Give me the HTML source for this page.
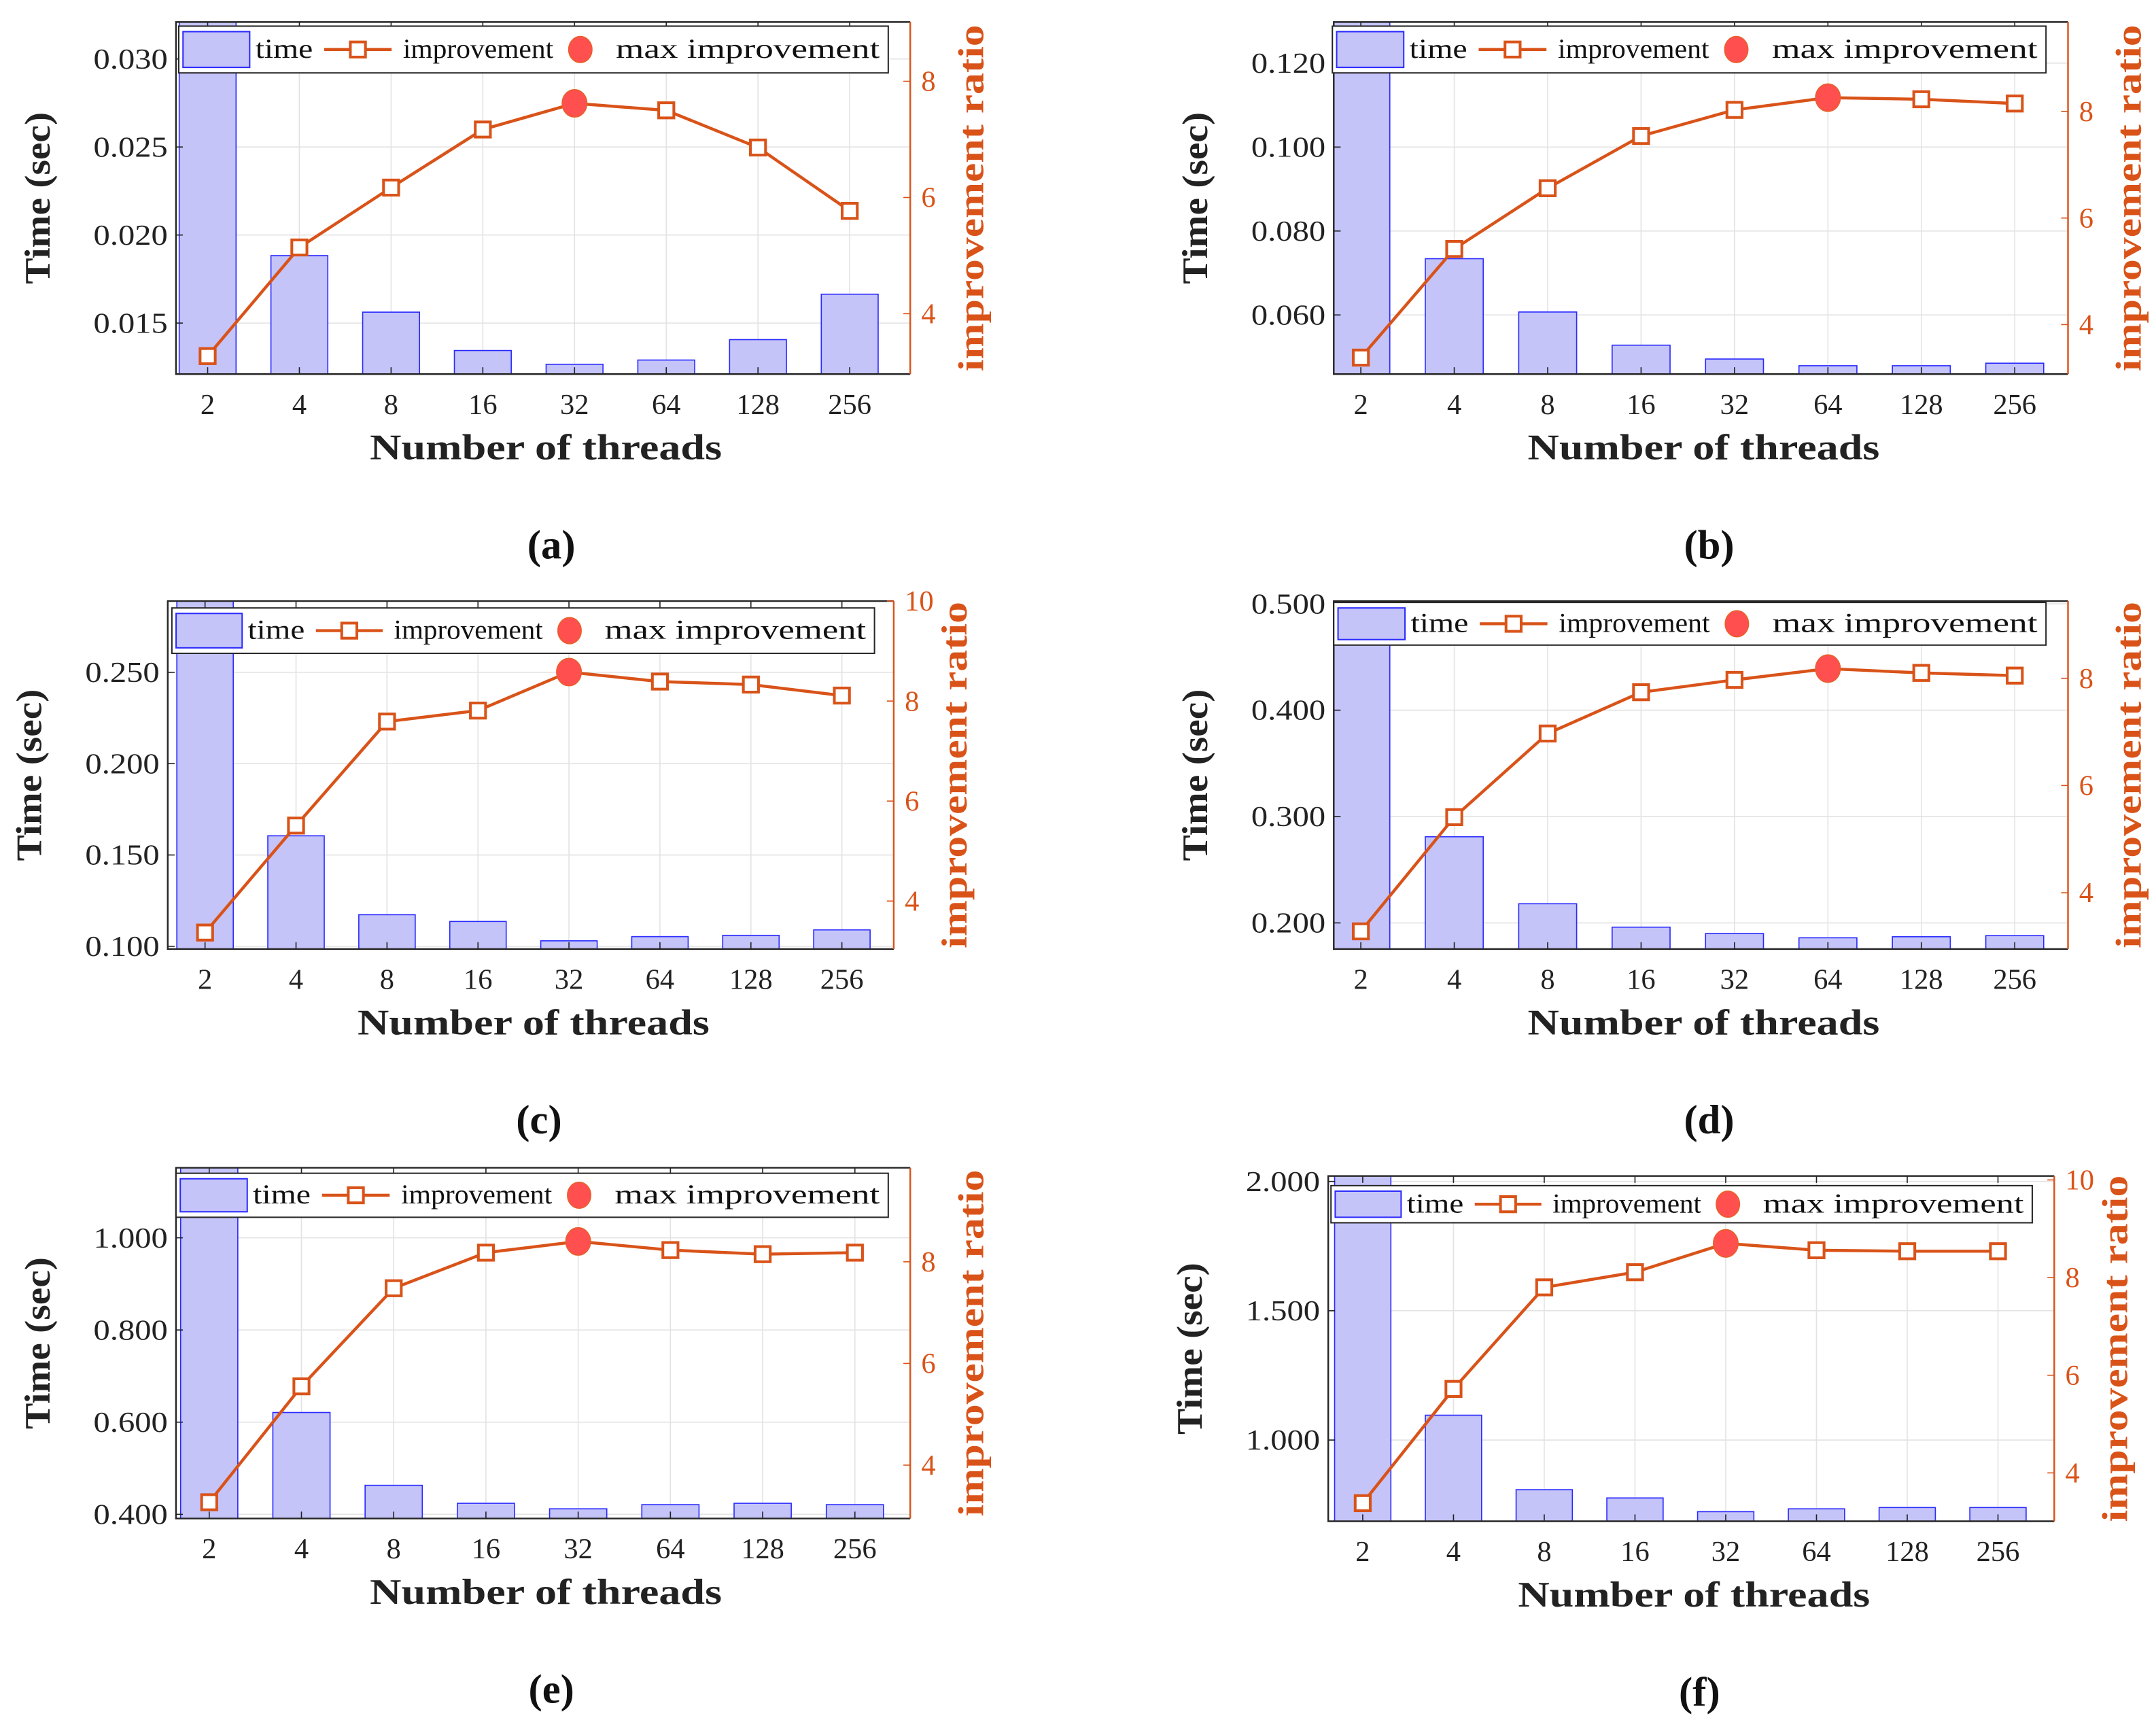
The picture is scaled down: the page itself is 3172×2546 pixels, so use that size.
<!DOCTYPE html>
<html><head><meta charset="utf-8"><style>
html,body{margin:0;padding:0;background:#fff;}
svg{display:block;}
text{font-family:"Liberation Serif",serif;}
</style></head><body>
<svg id="fig" width="3172" height="2546" viewBox="0 0 1568 1258.5" preserveAspectRatio="none" xmlns="http://www.w3.org/2000/svg"></svg>
<script>
const categories = ["2","4","8","16","32","64","128","256"];
// time (sec) values per panel
const timeA = [0.0330,0.01883,0.01562,0.01344,0.01266,0.0129,0.01406,0.01664];
const timeB = [0.135,0.0734,0.0607,0.0528,0.0495,0.0479,0.0479,0.0485];
const timeC = [0.300,0.1605,0.1173,0.1136,0.1030,0.1053,0.1060,0.1090];
const timeD = [0.520,0.281,0.218,0.196,0.190,0.186,0.187,0.188];
const timeE = [1.20,0.621,0.463,0.424,0.412,0.421,0.424,0.421];
const timeF = [2.10,1.096,0.808,0.776,0.723,0.734,0.739,0.739];
// improvement ratio per panel
const impA = [3.27,5.14,6.17,7.17,7.62,7.50,6.86,5.77];
const impB = [3.38,5.42,6.56,7.54,8.03,8.26,8.23,8.15];
const impC = [3.37,5.51,7.59,7.81,8.58,8.39,8.33,8.11];
const impD = [3.28,5.41,6.97,7.74,7.97,8.18,8.10,8.05];
const impE = [3.27,5.55,7.48,8.18,8.40,8.23,8.15,8.18];
const impF = [3.38,5.72,7.80,8.11,8.70,8.56,8.54,8.54];
// left tick labels
const ticksA = ["0.015","0.020","0.025","0.030"];
const ticksB = ["0.060","0.080","0.100","0.120"];
const ticksC = ["0.100","0.150","0.200","0.250"];
const ticksD = ["0.200","0.300","0.400","0.500"];
const ticksE = ["0.400","0.600","0.800","1.000"];
const ticksF = ["1.000","1.500","2.000"];
const rTicksA = ["4","6","8"];
const rTicksB = ["4","6","8"];
const rTicksC = ["4","6","8","10"];
const rTicksD = ["4","6","8"];
const rTicksE = ["4","6","8"];
const rTicksF = ["4","6","8","10"];

const panels = [
 {id:"a",x0:128,x1:662,y0:16,y1:272,yl:[0.0121,0.0321],yr:[2.96,9.02],pl:0.345,pr:0.66,time:timeA,imp:impA,t:ticksA,rt:rTicksA,lg:[130,646,19,53]},
 {id:"b",x0:970,x1:1504,y0:16,y1:272,yl:[0.0459,0.1298],yr:[3.07,9.68],pl:0.29,pr:0.57,time:timeB,imp:impB,t:ticksB,rt:rTicksB,lg:[969,1488,19,53]},
 {id:"c",x0:122,x1:650,y0:437,y1:690,yl:[0.0985,0.289],yr:[3.04,10],pl:0.41,pr:0.57,time:timeC,imp:impC,t:ticksC,rt:rTicksC,lg:[125,636,442,475]},
 {id:"d",x0:970,x1:1504,y0:437,y1:690,yl:[0.1754,0.5026],yr:[2.95,9.44],pl:0.29,pr:0.57,time:timeD,imp:impD,t:ticksD,rt:rTicksD,lg:[970,1488,438,469]},
 {id:"e",x0:128,x1:662,y0:849,y1:1104,yl:[0.391,1.152],yr:[2.95,9.85],pl:0.36,pr:0.6,time:timeE,imp:impE,t:ticksE,rt:rTicksE,lg:[128,646,853,885]},
 {id:"f",x0:966,x1:1494,y0:855,y1:1106,yl:[0.686,2.021],yr:[3.01,10.08],pl:0.38,pr:0.62,time:timeF,imp:impF,t:ticksF,rt:rTicksF,lg:[968,1478,862,889]}
];
const NS="http://www.w3.org/2000/svg";
const svg=document.getElementById("fig");
const ORANGE="#d95319";
function mk(tag,attrs,parent){const e=document.createElementNS(NS,tag);for(const k in attrs)e.setAttribute(k,attrs[k]);(parent||svg).appendChild(e);return e;}

panels.forEach(p=>{
  const g=mk("g",{});
  
  
  const n=categories.length;
  const unit=(p.x1-p.x0)/(n-1+p.pl+p.pr);
  const xs=i=>p.x0+(p.pl+i)*unit;
  const yL=v=>p.y1-(v-p.yl[0])/(p.yl[1]-p.yl[0])*(p.y1-p.y0);
  const yR=v=>p.y1-(v-p.yr[0])/(p.yr[1]-p.yr[0])*(p.y1-p.y0);
  const cp=mk("clipPath",{id:"clip"+p.id},g);
  mk("rect",{x:p.x0,y:p.y0,width:p.x1-p.x0,height:p.y1-p.y0},cp);
  categories.forEach((c,i)=>{const l=mk("line",{x1:xs(i),x2:xs(i),y1:p.y0,y2:p.y1,stroke:"#e3e3e3","stroke-width":0.8},g);
    
    });
  p.t.forEach(t=>{const y=yL(parseFloat(t));const l=mk("line",{x1:p.x0,x2:p.x1,y1:y,y2:y,stroke:"#e3e3e3","stroke-width":0.8},g);
    
    });
  const bg=mk("g",{"clip-path":"url(#clip"+p.id+")"},g);
  const bw=unit*0.62;
  p.time.forEach((v,i)=>{const y=Math.max(yL(v),p.y0-5);
    const r=mk("rect",{x:xs(i)-bw/2,y:y,width:bw,height:p.y1-y,fill:"#c4c4f9",stroke:"#2a2aff","stroke-width":0.8},bg);
    
    });
  categories.forEach((c,i)=>{mk("line",{x1:xs(i),x2:xs(i),y1:p.y1,y2:p.y1-5,stroke:"#222","stroke-width":0.8},g);mk("line",{x1:xs(i),x2:xs(i),y1:p.y0,y2:p.y0+5,stroke:"#222","stroke-width":0.8},g);
    const t=mk("text",{x:xs(i),y:p.y1+29,"text-anchor":"middle","font-size":21,fill:"#222"},g);t.textContent=c;
    
    });
  mk("polyline",{points:`${p.x1},${p.y0} ${p.x0},${p.y0} ${p.x0},${p.y1} ${p.x1},${p.y1}`,fill:"none",stroke:"#262626","stroke-width":1.2},g);
  mk("line",{x1:p.x1,x2:p.x1,y1:p.y0,y2:p.y1,stroke:ORANGE,"stroke-width":1.2},g);
  p.t.forEach(t=>{const y=yL(parseFloat(t));mk("line",{x1:p.x0,x2:p.x0+5,y1:y,y2:y,stroke:"#222","stroke-width":0.8},g);
    const e=mk("text",{x:p.x0-6,y:y+7,"text-anchor":"end","font-size":21,fill:"#222",textLength:54,lengthAdjust:"spacingAndGlyphs"},g);e.textContent=t;
    
    });
  p.rt.forEach(t=>{const y=yR(parseFloat(t));mk("line",{x1:p.x1,x2:p.x1-5,y1:y,y2:y,stroke:ORANGE,"stroke-width":0.8},g);
    const e=mk("text",{x:p.x1+8,y:y+7,"font-size":21,fill:ORANGE},g);e.textContent=t;
    
    });
  const pts=p.imp.map((v,i)=>xs(i)+","+yR(v)).join(" ");
  const pl=mk("polyline",{points:pts,fill:"none",stroke:ORANGE,"stroke-width":2.2},g);
  
  
  let mi=0;p.imp.forEach((v,i)=>{if(v>p.imp[mi])mi=i;});
  p.imp.forEach((v,i)=>{if(i===mi)return;const s=mk("rect",{x:xs(i)-5.5,y:yR(v)-5.5,width:11,height:11,fill:"#fff",stroke:ORANGE,"stroke-width":2},g);
    
    });
  const mc=mk("ellipse",{cx:xs(mi),cy:yR(p.imp[mi]),rx:9,ry:10,fill:"#ff4f4f",stroke:"#e8602a","stroke-width":0.8},g);
  
  
  const cy=(p.y0+p.y1)/2;
  const yl=mk("text",{transform:`translate(${p.x0-92},${cy}) rotate(-90)`,"text-anchor":"middle","font-size":26,"font-weight":"bold",fill:"#222",textLength:125,lengthAdjust:"spacingAndGlyphs"},g);yl.textContent="Time (sec)";
  
  
  const yr=mk("text",{transform:`translate(${p.x1+53},${cy}) rotate(-90)`,"text-anchor":"middle","font-size":26,"font-weight":"bold",fill:ORANGE,textLength:252,lengthAdjust:"spacingAndGlyphs"},g);yr.textContent="improvement ratio";
  
  
  const xl=mk("text",{x:(p.x0+p.x1)/2+2,y:p.y1+62,"text-anchor":"middle","font-size":26,"font-weight":"bold",fill:"#222",textLength:256,lengthAdjust:"spacingAndGlyphs"},g);xl.textContent="Number of threads";
  
  
  const cap=mk("text",{x:(p.x0+p.x1)/2+6,y:p.y1+134,"text-anchor":"middle","font-size":30,"font-weight":"bold",fill:"#111"},g);cap.textContent="("+p.id+")";
  
  
  const [lx0,lx1,ly0,ly1]=p.lg;const W=lx1-lx0;const my=(ly0+ly1)/2;const fx=f=>lx0+f*W;
  const lgd=mk("g",{},g);
  
  
  mk("rect",{x:lx0,y:ly0,width:W,height:ly1-ly0,fill:"#fff",stroke:"#262626","stroke-width":1},lgd);
  mk("rect",{x:fx(0.006),y:ly0+4,width:fx(0.1)-fx(0.006),height:ly1-ly0-8,fill:"#c4c4f9",stroke:"#2a2aff","stroke-width":1},lgd);
  const t1=mk("text",{x:fx(0.108),y:my+6,"font-size":20,fill:"#111",textLength:0.081*W,lengthAdjust:"spacingAndGlyphs"},lgd);t1.textContent="time";
  mk("line",{x1:fx(0.205),x2:fx(0.3),y1:my,y2:my,stroke:ORANGE,"stroke-width":2.2},lgd);
  mk("rect",{x:fx(0.2525)-5.5,y:my-5.5,width:11,height:11,fill:"#fff",stroke:ORANGE,"stroke-width":2},lgd);
  const t2=mk("text",{x:fx(0.316),y:my+6,"font-size":20,fill:"#111",textLength:0.212*W,lengthAdjust:"spacingAndGlyphs"},lgd);t2.textContent="improvement";
  mk("ellipse",{cx:fx(0.566),cy:my,rx:8.5,ry:9.5,fill:"#ff4f4f",stroke:"#e8602a","stroke-width":0.8},lgd);
  const t3=mk("text",{x:fx(0.616),y:my+6,"font-size":20,fill:"#111",textLength:0.372*W,lengthAdjust:"spacingAndGlyphs"},lgd);t3.textContent="max improvement";
});
</script>
</body></html>
